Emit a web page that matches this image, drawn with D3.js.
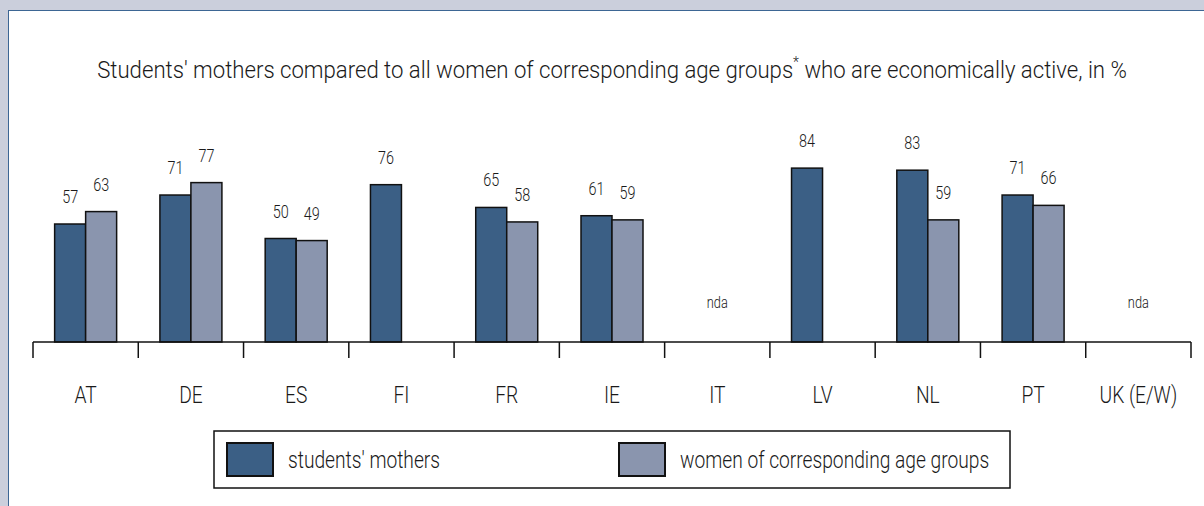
<!DOCTYPE html>
<html lang="en">
<head>
<meta charset="utf-8">
<title>Students' mothers economically active</title>
<script src="https://cdn.jsdelivr.net/npm/d3@7"></script>
<style>
  body { margin: 0; background: #cbcfdc; }
  svg { display: block; }
  text { font-family: Roboto, "Liberation Sans", sans-serif; font-weight: 300; fill: #1a1a1a; }
</style>
</head>
<body>
<script>
var categories = ["AT", "DE", "ES", "FI", "FR", "IE", "IT", "LV", "NL", "PT", "UK (E/W)"];
var mothers = [57, 71, 50, 76, 65, 61, null, 84, 83, 71, null];
var women = [63, 77, 49, null, 58, 59, null, null, 59, 66, null];
var seriesNames = ["students' mothers", "women of corresponding age groups"];
var seriesColors = ["#3b5f85", "#8a95ae"];

var w = 1204, h = 506;
var squeeze = 0.8; // the original uses a condensed face
var svg = d3.select("body").append("svg").attr("width", w).attr("height", h);

// narrow text: a group scaled horizontally around the anchor point
function narrowText(parent, px, py) {
  return parent.append("g")
    .attr("transform", "translate(" + px + "," + py + ") scale(" + squeeze + ",1)")
    .append("text");
}

// white panel
svg.append("rect")
  .attr("x", 8.5).attr("y", 10.5)
  .attr("width", w).attr("height", h)
  .attr("fill", "#fff")
  .attr("stroke", "#3d6694")
  .attr("stroke-width", 1);

// title
var title = svg.append("g").attr("transform", "translate(612,78)")
  .append("text")
  .attr("text-anchor", "middle")
  .attr("font-size", "24px");
title.append("tspan").text("Students' mothers compared to all women of corresponding age groups");
title.append("tspan").attr("dy", -11).attr("font-size", "15px").text("*");
title.append("tspan").attr("dy", 11).text(" who are economically active, in %");
var tl = title.node().getComputedTextLength();
d3.select(title.node().parentNode)
  .attr("transform", "translate(612,78) scale(" + (1030 / tl) + ",1)");

var baseY = 342;
var x = d3.scaleBand().domain(categories).range([33, 1191]).padding(0);
var y = d3.scaleLinear().domain([0, 100]).range([baseY, baseY - 207]);
var inner = d3.scaleBand().domain([0, 1]).range([0, 62]).padding(0);

var rows = [];
categories.forEach(function(c, i) {
  [mothers[i], women[i]].forEach(function(v, s) {
    if (v != null) rows.push({ cat: c, s: s, v: v });
  });
});

function barX(d) {
  return x(d.cat) + x.bandwidth() / 2 - 31 + inner(d.s);
}

svg.selectAll("rect.bar")
  .data(rows)
  .enter()
  .append("rect")
  .attr("class", "bar")
  .attr("x", barX)
  .attr("y", function(d) { return y(d.v); })
  .attr("width", inner.bandwidth())
  .attr("height", function(d) { return baseY - y(d.v); })
  .attr("fill", function(d) { return seriesColors[d.s]; })
  .attr("stroke", "#111")
  .attr("stroke-width", 1.5);

rows.forEach(function(d) {
  narrowText(svg, barX(d) + inner.bandwidth() / 2, y(d.v) - 21)
    .attr("text-anchor", "middle")
    .attr("font-size", "18px")
    .text(d.v);
});

// nda labels
categories.forEach(function(c, i) {
  if (mothers[i] == null && women[i] == null) {
    narrowText(svg, x(c) + x.bandwidth() / 2, 308)
      .attr("text-anchor", "middle")
      .attr("font-size", "16px")
      .text("nda");
  }
});

// axis line and ticks
svg.append("line")
  .attr("x1", 33).attr("x2", 1191)
  .attr("y1", baseY).attr("y2", baseY)
  .attr("stroke", "#111").attr("stroke-width", 1.5);

var tickPos = categories.map(function(c) { return x(c); }).concat([x.range()[1]]);
svg.selectAll("line.tick")
  .data(tickPos)
  .enter()
  .append("line")
  .attr("class", "tick")
  .attr("x1", function(d) { return d; }).attr("x2", function(d) { return d; })
  .attr("y1", baseY).attr("y2", baseY + 16)
  .attr("stroke", "#111").attr("stroke-width", 1.5);

categories.forEach(function(c) {
  narrowText(svg, x(c) + x.bandwidth() / 2, 403)
    .attr("text-anchor", "middle")
    .attr("font-size", "24px")
    .text(c);
});

// legend
var legend = svg.append("g");
legend.append("rect")
  .attr("x", 214).attr("y", 431)
  .attr("width", 796).attr("height", 57)
  .attr("fill", "#fff").attr("stroke", "#111").attr("stroke-width", 1.5);

var legendX = [227, 619];
seriesNames.forEach(function(name, i) {
  legend.append("rect")
    .attr("x", legendX[i]).attr("y", 443)
    .attr("width", 46).attr("height", 33)
    .attr("fill", seriesColors[i])
    .attr("stroke", "#111").attr("stroke-width", 2);
  narrowText(legend, legendX[i] + 61, 468)
    .attr("font-size", "24px")
    .text(name);
});
</script>
</body>
</html>
